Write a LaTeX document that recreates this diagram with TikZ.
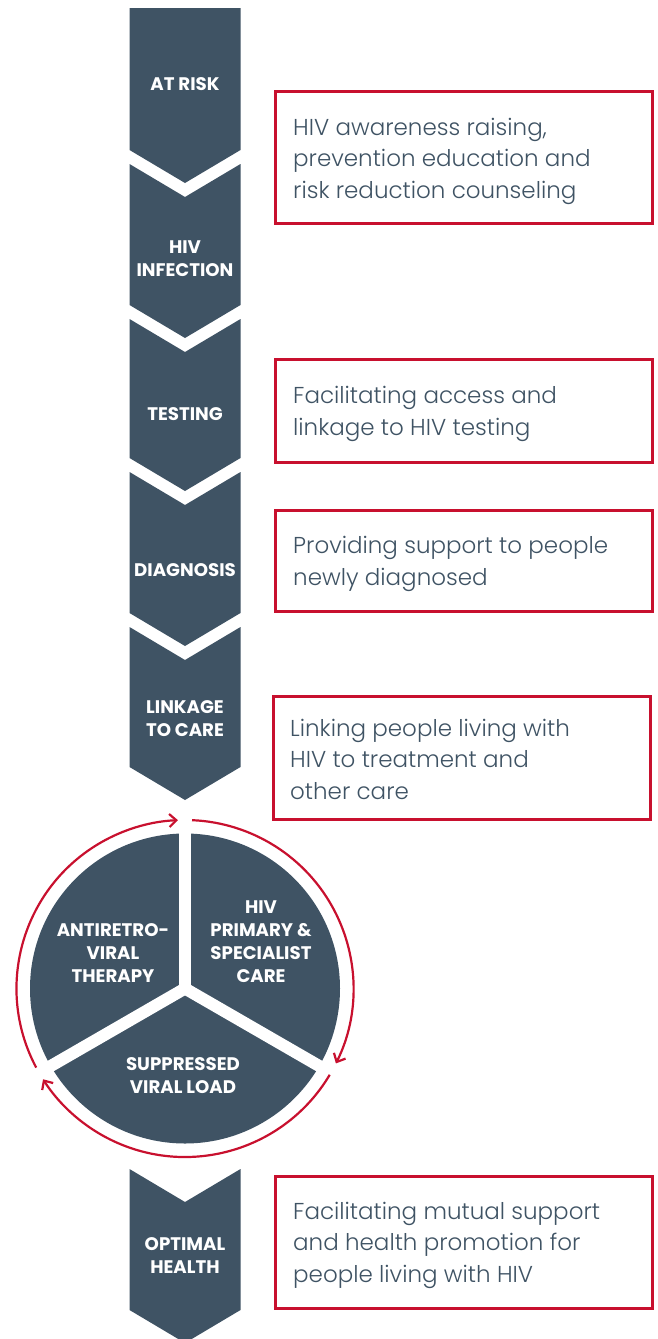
\documentclass[tikz,border=0pt]{standalone}
\usepackage{fontspec}
\usetikzlibrary{arrows.meta,calc}
\IfFontExistsTF{Poppins Light}{\newfontfamily\boxfont{Poppins Light}}{\newfontfamily\boxfont{Poppins}}
\newfontfamily\lblfont{Poppins}
\definecolor{slate}{HTML}{3F5364}
\definecolor{crim}{HTML}{C8102E}
\tikzset{
  chev/.style={fill=slate},
  lbl/.style={text=white, font=\lblfont\bfseries\fontsize{18.2}{23}\selectfont, align=center, inner sep=0pt},
  infobox/.style={draw=crim, line width=2.5pt, fill=white, anchor=north west, inner sep=0pt},
  boxtext/.style={text=slate, font=\boxfont\fontsize{23}{31.5}\selectfont, align=left, anchor=west, inner sep=0pt},
  cyc/.style={draw=crim, line width=2.2pt, -{Straight Barb[length=7pt,width=13pt]}},
  sep/.style={draw=white, line width=12pt}
}
\begin{document}
\begin{tikzpicture}[x=1pt,y=-1pt]
\useasboundingbox (0,0) rectangle (657,1339);
% chevron column
\fill[chev] (129.5,8) -- (240.5,8) -- (240.5,150) -- (185,183) -- (129.5,150) -- cycle;
\fill[chev] (129.5,164) -- (185,197) -- (240.5,164) -- (240.5,305) -- (185,338) -- (129.5,305) -- cycle;
\fill[chev] (129.5,319) -- (185,352) -- (240.5,319) -- (240.5,458) -- (185,491) -- (129.5,458) -- cycle;
\fill[chev] (129.5,472) -- (185,505) -- (240.5,472) -- (240.5,613) -- (185,646) -- (129.5,613) -- cycle;
\fill[chev] (129.5,627) -- (185,660) -- (240.5,627) -- (240.5,767) -- (185,800) -- (129.5,767) -- cycle;
\fill[chev] (129.5,1169) -- (185,1202) -- (240.5,1169) -- (240.5,1310) -- (185,1343) -- (129.5,1310) -- cycle;
\node[lbl] (atrisk) at (185,84.5) {AT RISK};
\node[lbl] (infect) at (185,258.5) {HIV\\INFECTION};
\node[lbl] (testing) at (185,414.5) {TESTING};
\node[lbl] (diag) at (185,570.5) {DIAGNOSIS};
\node[lbl] (link) at (185,718.5) {LINKAGE\\TO CARE};
\node[lbl] (optimal) at (185,1255.5) {OPTIMAL\\HEALTH};
% cycle disc
\coordinate (c) at (185,988.5);
\fill[slate] (c) circle[radius=155pt];
\draw[sep] (c) -- ++(90:160pt);
\draw[sep] (c) -- ++(-30:160pt);
\draw[sep] (c) -- ++(210:160pt);
\node[lbl] (art) at (113,953.5) {ANTIRETRO-\\VIRAL\\THERAPY};
\node[lbl] (care) at (261,942) {HIV\\PRIMARY \&\\SPECIALIST\\CARE};
\node[lbl] (svl) at (183,1075.5) {SUPPRESSED\\VIRAL LOAD};
\draw[cyc] (c) ++(208:168.5pt) arc[start angle=208, end angle=92.4, radius=168.5pt];
\draw[cyc] (c) ++(87.6:168.5pt) arc[start angle=87.6, end angle=-26.4, radius=168.5pt];
\draw[cyc] (c) ++(-30.8:168.5pt) arc[start angle=-30.8, end angle=-147.4, radius=168.5pt];
% info boxes
\node[infobox, minimum width=377pt, minimum height=132pt] (b1) at (274,90) {};
\node[boxtext] (t1) at ($(b1.west)+(19,4)$) {HIV awareness raising,\\prevention education and\\risk reduction counseling};
\node[infobox, minimum width=377pt, minimum height=103pt] (b2) at (274,358) {};
\node[boxtext] (t2) at ($(b2.west)+(19,3)$) {Facilitating access and\\linkage to HIV testing};
\node[infobox, minimum width=377pt, minimum height=101pt] (b3) at (274,509) {};
\node[boxtext] (t3) at ($(b3.west)+(19,3)$) {Providing support to people\\newly diagnosed};
\node[infobox, minimum width=377pt, minimum height=123pt] (b4) at (272,695) {};
\node[boxtext] (t4) at ($(b4.west)+(18,1.5)$) {Linking people living with\\HIV to treatment and\\other care};
\node[infobox, minimum width=377pt, minimum height=132pt] (b5) at (274,1175) {};
\node[boxtext] (t5) at ($(b5.west)+(19,3)$) {Facilitating mutual support\\and health promotion for\\people living with HIV};
\end{tikzpicture}
\end{document}
